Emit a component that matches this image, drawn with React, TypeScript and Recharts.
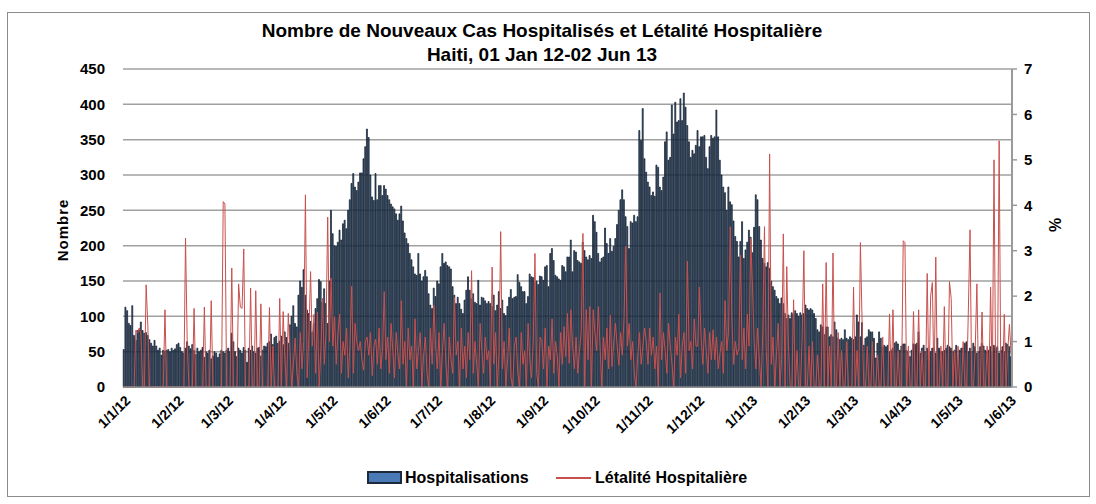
import { ComposedChart, Bar, Line, XAxis, YAxis, CartesianGrid } from 'recharts';

// month keys as they appear in the day labels (d/m/yy)
const monthKeys = ['1/12', '2/12', '3/12', '4/12', '5/12', '6/12', '7/12', '8/12', '9/12', '10/12', '11/12', '12/12', '1/13', '2/13', '3/13', '4/13', '5/13', '6/13'];

// Hospitalisations (daily new cases), one array per month
const hJan12 = [53, 113, 108, 90, 87, 115, 73, 66, 80, 81, 92, 80, 76, 77, 73, 67, 62, 58, 66, 58, 52, 55, 45, 52, 51, 52, 53, 50, 55, 52, 54];
const hFeb12 = [60, 62, 56, 50, 48, 55, 64, 58, 54, 60, 52, 46, 55, 50, 52, 56, 42, 50, 48, 52, 40, 44, 50, 48, 42, 47, 52, 50, 48];
const hMar12 = [52, 55, 50, 76, 64, 50, 43, 55, 52, 48, 56, 52, 35, 55, 52, 58, 50, 48, 55, 56, 44, 52, 58, 57, 62, 64, 75, 60, 70, 72, 62];
const hApr12 = [65, 72, 60, 78, 70, 62, 88, 100, 115, 90, 85, 130, 150, 141, 166, 130, 109, 104, 93, 78, 90, 111, 125, 152, 149, 120, 139, 118, 90, 150];
const hMay12 = [250, 217, 200, 199, 205, 222, 208, 231, 236, 224, 250, 265, 288, 302, 283, 278, 290, 303, 303, 323, 340, 365, 353, 300, 269, 264, 302, 265, 285, 285, 271];
const hJun12 = [285, 280, 271, 265, 259, 255, 252, 245, 236, 245, 256, 235, 218, 210, 203, 189, 180, 170, 160, 158, 189, 160, 150, 156, 165, 156, 132, 116, 111, 140];
const hJul12 = [128, 150, 146, 170, 189, 175, 177, 172, 170, 167, 142, 130, 118, 127, 118, 110, 104, 123, 137, 156, 137, 125, 132, 120, 118, 151, 116, 127, 126, 122, 118];
const hAug12 = [121, 118, 114, 130, 108, 116, 135, 111, 123, 104, 101, 114, 127, 138, 125, 127, 128, 159, 148, 142, 135, 135, 118, 128, 160, 156, 155, 149, 150, 145, 157];
const hSep12 = [156, 151, 170, 172, 142, 189, 196, 179, 158, 156, 153, 151, 172, 170, 163, 184, 184, 208, 163, 193, 191, 179, 177, 175, 205, 193, 184, 180, 186, 182];
const hOct12 = [243, 234, 219, 189, 177, 182, 184, 225, 203, 189, 210, 192, 199, 210, 230, 250, 265, 279, 265, 241, 227, 196, 234, 232, 243, 234, 241, 363, 349, 394, 323];
const hNov12 = [304, 290, 283, 271, 276, 270, 314, 311, 283, 278, 297, 347, 361, 321, 325, 399, 358, 403, 375, 377, 408, 377, 416, 396, 370, 347, 325, 335, 330, 342];
const hDec12 = [363, 340, 354, 354, 356, 325, 309, 340, 356, 352, 354, 392, 354, 321, 300, 283, 275, 250, 283, 262, 258, 235, 213, 206, 184, 206, 234, 182, 194, 205, 222];
const hJan13 = [212, 190, 226, 272, 265, 227, 208, 182, 175, 170, 176, 168, 150, 142, 137, 128, 125, 118, 126, 118, 104, 97, 102, 97, 105, 103, 108, 104, 100, 105, 102];
const hFeb13 = [104, 116, 111, 109, 111, 109, 104, 97, 81, 78, 88, 85, 74, 85, 85, 71, 74, 71, 92, 81, 69, 67, 69, 67, 81, 69, 67, 71];
const hMar13 = [69, 67, 71, 102, 92, 71, 91, 59, 69, 71, 81, 78, 78, 69, 41, 62, 78, 69, 57, 59, 57, 59, 50, 52, 55, 62, 64, 61, 52, 58, 61];
const hApr13 = [61, 52, 50, 43, 52, 61, 60, 62, 78, 48, 55, 59, 50, 55, 38, 50, 55, 55, 48, 69, 55, 50, 50, 52, 55, 59, 57, 55, 50, 52];
const hMay13 = [59, 38, 52, 55, 55, 62, 64, 50, 55, 50, 62, 57, 48, 50, 57, 62, 58, 52, 50, 52, 57, 50, 59, 55, 57, 48, 52, 57, 50, 62, 60];
const hJun13 = [57, 43];

// Létalité hospitalière (%), one array per month
const lJan12 = [0, 0, 0, 0, 0, 0, 0, 1.25, 1.2, 1.3, 1.15, 0, 0, 2.25, 1.35, 0, 0, 0, 0, 0, 0, 0, 0, 0, 1.7, 0, 0, 0, 0, 0, 0];
const lFeb12 = [0, 0, 0, 0, 0, 3.28, 0.95, 0, 0, 0, 1.73, 0, 0, 0, 0, 0, 1.76, 0, 0, 0, 1.9, 0, 0, 0, 0, 0, 0, 4.08, 4.03];
const lMar12 = [0, 0, 0, 2.62, 0, 0, 0, 2.27, 1.76, 1.73, 3.04, 0, 0, 0, 2.18, 0, 0, 2.12, 0, 0, 1.83, 0, 0, 0, 0, 1.75, 0, 0.9, 0, 0, 0];
const lApr12 = [1.95, 0, 1.66, 0.6, 0, 1.62, 0.8, 0, 0.5, 1.08, 0.3, 0, 1.2, 0.4, 1.0, 4.23, 0.2, 1.1, 2.54, 0.9, 1.6, 0.3, 1.65, 0, 0.8, 1.95, 0.5, 1.2, 3.74, 1.0];
const lMay12 = [2.4, 0.9, 1.55, 0.5, 1.2, 1.6, 0.3, 1.0, 0.7, 1.3, 0.2, 0.9, 2.22, 0.3, 1.4, 0.98, 0.8, 1.0, 0.6, 0.37, 1.0, 1.1, 0.7, 1.2, 0.25, 0.9, 1.05, 0.5, 1.3, 0.4, 0.8];
const lJun12 = [2.1, 0.6, 1.1, 0.3, 1.4, 0.8, 0.2, 1.2, 0.7, 0.4, 1.9, 0.5, 1.0, 0, 1.3, 0.6, 0.9, 0, 1.5, 0.4, 0.8, 1.2, 0, 0.7, 1.1, 0.3, 0, 1.3, 0.5, 1.8];
const lJul12 = [0.9, 0.4, 1.2, 0, 0.8, 1.4, 0.5, 0, 1.1, 0.6, 0.3, 1.97, 0.7, 1.0, 0, 1.3, 0.4, 0.9, 0.2, 1.2, 0.6, 2.56, 0.3, 1.0, 0.5, 0, 1.4, 0.8, 0.3, 1.1, 0.6];
const lAug12 = [0.8, 0, 2.64, 0.5, 1.2, 0, 0.7, 3.42, 0.4, 1.0, 0, 0.6, 1.3, 0.2, 0, 0.9, 1.1, 0.3, 0, 1.2, 0.5, 0.8, 0, 1.4, 0.6, 0.2, 1.0, 2.94, 0.3, 0, 1.1];
const lSep12 = [1.0, 0.4, 1.3, 0, 0.9, 0.6, 1.5, 0.3, 1.0, 0.7, 0, 1.2, 0.5, 1.33, 0.67, 1.62, 0.52, 1.7, 0.9, 0.4, 1.1, 0.3, 0.8, 1.2, 3.38, 0, 1.7, 0.6, 1.77, 0];
const lOct12 = [1.7, 1.2, 0.8, 1.77, 0.9, 0, 1.1, 0.6, 1.3, 0.4, 1.58, 0.45, 1.0, 1.4, 0.9, 0.48, 1.2, 0.7, 1.5, 3.1, 0.9, 1.4, 0.6, 1.0, 0.3, 0, 0.67, 1.2, 0.5, 0.9, 1.3];
const lNov12 = [1.0, 0.5, 1.3, 0.7, 1.1, 0.4, 0.9, 0, 2.07, 0.6, 1.2, 0.8, 0.3, 1.4, 0.9, 0.5, 0, 1.1, 0.7, 1.6, 0.2, 0.9, 1.2, 0.3, 2.77, 0.8, 1.0, 0.4, 1.5, 0.9];
const lDec12 = [0.9, 2.2, 1.1, 0.5, 1.3, 0.8, 0.3, 1.2, 0.6, 1.26, 0.6, 1.1, 0.4, 0.74, 1.0, 0.3, 1.9, 0.8, 1.2, 3.53, 1.44, 0.5, 1.0, 0.7, 0.85, 2.9, 0.6, 1.3, 0.4, 1.6, 0.9];
const lJan13 = [3.27, 2.2, 1.0, 0.4, 1.3, 0.6, 0, 1.2, 3.53, 0.8, 0, 5.13, 0.5, 1.1, 0, 0.7, 1.4, 0, 0.6, 3.37, 0, 2.65, 0.9, 0, 0, 1.92, 0, 0.8, 0, 0, 1.1];
const lFeb13 = [3.0, 0, 0, 0.9, 0, 1.0, 0, 0, 0.7, 0, 0, 2.27, 0, 2.74, 0, 0.9, 0, 2.95, 0, 0, 1.2, 0, 0.8, 0, 0, 1.0, 0, 0];
const lMar13 = [0, 2.2, 0, 0.8, 0, 3.18, 1.4, 0, 0, 0.9, 0, 0, 1.0, 0, 0, 0.7, 0, 0, 1.1, 0, 0, 0, 1.61, 0, 1.7, 0, 0, 0.8, 0, 0, 3.22];
const lApr13 = [3.18, 0, 0.9, 0, 0, 1.66, 0, 0, 1.7, 0, 0.8, 0, 0, 2.5, 0, 2.0, 2.3, 0, 2.86, 0, 0, 0.9, 0, 1.77, 0, 0, 2.32, 1.95, 0, 0.8];
const lMay13 = [0, 0.9, 0, 0, 1.0, 0, 0, 1.65, 3.46, 0, 0, 0.8, 2.27, 0, 0, 1.65, 0, 0, 0.9, 0, 2.2, 0, 5.0, 0, 0, 5.42, 0, 0, 1.6, 0, 0.8];
const lJun13 = [1.38, 0.7];

const hospByMonth = [hJan12, hFeb12, hMar12, hApr12, hMay12, hJun12, hJul12, hAug12, hSep12, hOct12, hNov12, hDec12, hJan13, hFeb13, hMar13, hApr13, hMay13, hJun13];
const letByMonth = [lJan12, lFeb12, lMar12, lApr12, lMay12, lJun12, lJul12, lAug12, lSep12, lOct12, lNov12, lDec12, lJan13, lFeb13, lMar13, lApr13, lMay13, lJun13];

const leftTicks = [0, 50, 100, 150, 200, 250, 300, 350, 400, 450];
const rightTicks = [0, 1, 2, 3, 4, 5, 6, 7];
const monthTicks = monthKeys.map((mk) => `1/${mk}`);

const data = monthKeys.flatMap((mk, i) =>
  hospByMonth[i].map((h, d) => ({ day: `${d + 1}/${mk}`, hosp: h, letal: letByMonth[i][d] }))
);

const FONT = '"Liberation Sans", Arial, sans-serif';

function DateTick({ x, y, payload }: any) {
  return (
    <text
      transform={`translate(${x + 4},${y + 3}) rotate(-45)`}
      textAnchor="end"
      dy="0.35em"
      fontSize={14}
      fontWeight="bold"
      fontFamily={FONT}
      fill="#000"
    >
      {payload.value}
    </text>
  );
}

export default function App() {
  const axisText = { fontSize: 15, fontWeight: 'bold', fill: '#000', fontFamily: FONT };
  return (
    <div style={{ position: 'absolute', left: 0, top: 0, width: 1096, height: 504, background: '#fff', fontFamily: FONT }}>
      <div style={{ position: 'absolute', left: 7, top: 12, width: 1083, height: 485, border: '1px solid #8c8c8c', boxSizing: 'border-box' }} />
      <div style={{ position: 'absolute', left: 0, top: 19, width: 1084, textAlign: 'center', fontWeight: 'bold', fontSize: 19, lineHeight: '24px', color: '#000' }}>
        <div>Nombre de Nouveaux Cas Hospitalisés et Létalité Hospitalière</div>
        <div>Haiti, 01 Jan 12-02 Jun 13</div>
      </div>
      <ComposedChart
        width={1096}
        height={504}
        data={data}
        margin={{ top: 69, right: 34, left: 63, bottom: 37 }}
        barCategoryGap="12%"
        style={{ position: 'absolute', left: 0, top: 0 }}
      >
        <CartesianGrid yAxisId="left" vertical={false} stroke="#a0a0a0" strokeWidth={1.5} />
        <XAxis
          dataKey="day"
          ticks={monthTicks}
          interval={0}
          height={80}
          tickLine={false}
          axisLine={{ stroke: '#8c8c8c', strokeWidth: 1.5 }}
          tick={<DateTick />}
        />
        <YAxis
          yAxisId="left"
          domain={[0, 450]}
          ticks={leftTicks}
          width={60}
          axisLine={false}
          tickLine={false}
          tickSize={6}
          tickMargin={12}
          tick={axisText}
        />
        <YAxis
          yAxisId="right"
          orientation="right"
          domain={[0, 7]}
          ticks={rightTicks}
          width={50}
          axisLine={{ stroke: '#9a9a9a', strokeWidth: 2 }}
          tickLine={{ stroke: '#9a9a9a', strokeWidth: 1.5 }}
          tickSize={5}
          tickMargin={7}
          tick={axisText}
        />
        <Bar yAxisId="left" dataKey="hosp" fill="#3b659b" stroke="#0d1520" strokeWidth={0.7} isAnimationActive={false} />
        <Line yAxisId="right" type="linear" dataKey="letal" stroke="#c8504d" strokeWidth={1} dot={false} activeDot={false} isAnimationActive={false} />
      </ComposedChart>
      <div style={{ position: 'absolute', left: 62, top: 230, transform: 'translate(-50%, -50%) rotate(-90deg)', fontWeight: 'bold', fontSize: 15, letterSpacing: 1, whiteSpace: 'nowrap' }}>Nombre</div>
      <div style={{ position: 'absolute', left: 1056, top: 225, transform: 'translate(-50%, -50%) rotate(-90deg)', fontWeight: 'bold', fontSize: 16 }}>%</div>
      <div style={{ position: 'absolute', left: 367, top: 471, width: 35, height: 13, background: '#4a7ab5', border: '2px solid #1d2a3c', boxSizing: 'border-box' }} />
      <div style={{ position: 'absolute', left: 405, top: 468, fontWeight: 'bold', fontSize: 16, lineHeight: '20px' }}>Hospitalisations</div>
      <div style={{ position: 'absolute', left: 556, top: 477, width: 35, height: 1.5, background: '#c8504d' }} />
      <div style={{ position: 'absolute', left: 595, top: 468, fontWeight: 'bold', fontSize: 16, lineHeight: '20px' }}>Létalité Hospitalière</div>
    </div>
  );
}
